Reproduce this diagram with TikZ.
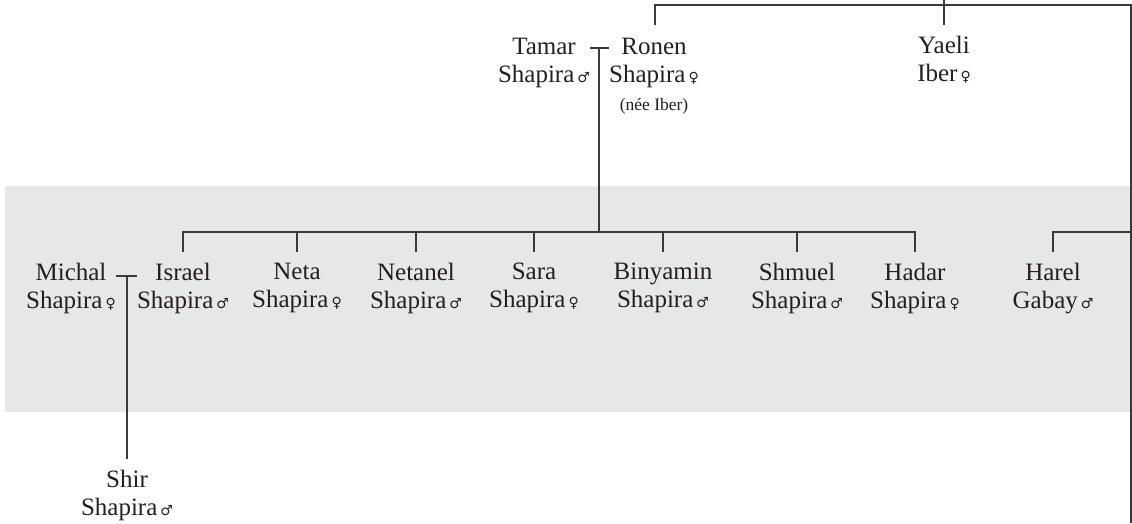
\documentclass[tikz,border=0pt]{standalone}
\usepackage{fontspec}
\setmainfont{Liberation Serif}
\newfontfamily\symfont{DejaVu Sans}
\usetikzlibrary{calc}
\definecolor{linegray}{HTML}{3A3A3A}
\definecolor{textgray}{HTML}{231F20}
\definecolor{bandgray}{HTML}{E6E7E9}
\newcommand{\ma}{\hspace{3pt}{\symfont\fontsize{14}{14}\selectfont ♂}}
\newcommand{\fe}{\hspace{3pt}{\symfont\fontsize{14}{14}\selectfont ♀}}
\newcommand{\smalltext}[1]{{\fontsize{17.5}{28}\selectfont #1}}
\begin{document}
\begin{tikzpicture}[x=1pt,y=-1pt,
  person/.style={align=center, anchor=north, inner sep=0pt, outer xsep=0pt, outer ysep=11pt,
    text=textgray, font=\fontsize{25}{28}\selectfont},
  conn/.style={draw=linegray, line width=1.2pt}]
\useasboundingbox (0,0) rectangle (1132,523);
\fill[bandgray] (5,186) rectangle (1131,412);

% generation 1
\node[person] (tamar) at (544,27) {Tamar\\Shapira\ma};
\node[person] (ronen) at (654,27) {Ronen\\Shapira\fe\\\smalltext{(née Iber)}};
\node[person] (yaeli) at (944,25) {Yaeli\\Iber\fe};

% generation 2
\node[person] (michal)   at (71,252)  {Michal\\Shapira\fe};
\node[person] (israel)   at (183,252) {Israel\\Shapira\ma};
\node[person] (neta)     at (297,252) {Neta\\Shapira\fe};
\node[person] (netanel)  at (416,252) {Netanel\\Shapira\ma};
\node[person] (sara)     at (534,252) {Sara\\Shapira\fe};
\node[person] (binyamin) at (663,252) {Binyamin\\Shapira\ma};
\node[person] (shmuel)   at (797,252) {Shmuel\\Shapira\ma};
\node[person] (hadar)    at (915,252) {Hadar\\Shapira\fe};
\node[person] (harel)    at (1053,252) {Harel\\Gabay\ma};

% generation 3
\node[person] (shir) at (127,459) {Shir\\Shapira\ma};

% coordinates
\coordinate (gp) at (944,0);
\coordinate (sib) at (944,5);
\coordinate (rb) at (1131,523);
\coordinate (m1) at (599,48);
\coordinate (kidbar) at (599,232);
\coordinate (m2) at (127,276);
\coordinate (rtick) at (655,25);

% connectors
\draw[conn] (gp) -- (yaeli.north);
\draw[conn] (rtick) |- (rb |- sib) -- (rb);
\draw[conn] (tamar.east |- m1) -- (ronen.west |- m1);
\draw[conn] (m1) -- (kidbar);
\draw[conn] (israel.north) |- (hadar.north |- kidbar) -- (hadar.north);
\foreach \k in {neta,netanel,sara,binyamin,shmuel}
  \draw[conn] (\k.north |- kidbar) -- (\k.north);
\draw[conn] (harel.north) |- (rb |- kidbar);
\draw[conn] (michal.east |- m2) -- (israel.west |- m2);
\draw[conn] (m2) -- (shir.north);
\end{tikzpicture}
\end{document}
